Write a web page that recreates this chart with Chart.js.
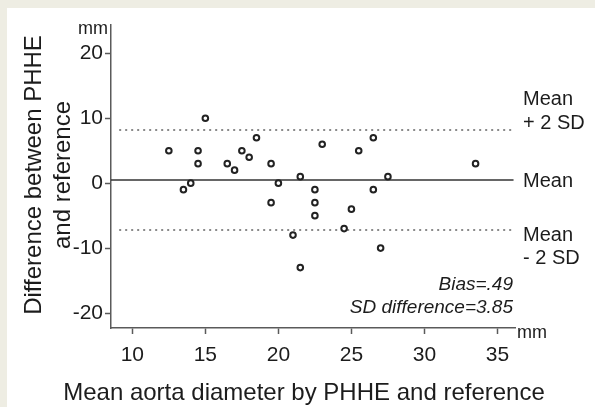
<!DOCTYPE html>
<html>
<head>
<meta charset="utf-8">
<script src="https://cdn.jsdelivr.net/npm/chart.js@4/dist/chart.umd.min.js"></script>
<style>
  html, body { margin: 0; padding: 0; }
  body { width: 595px; height: 407px; background: #eeede3; position: relative; overflow: hidden; }
  #panel { position: absolute; left: 7px; top: 8px; width: 588px; height: 399px; background: #fff; }
</style>
</head>
<body>
<div id="panel"><canvas id="myChart" width="588" height="399"></canvas></div>
<script>
// Bland-Altman: mean of PHHE and reference (x) vs. difference (y), mm
var aortaMean = [12.5, 13.5, 14, 14.5, 14.5, 15, 16.5, 17, 17.5, 18, 18.5, 19.5, 19.5, 20, 21,
                 21.5, 21.5, 22.5, 22.5, 22.5, 23, 24.5, 25, 25.5, 26.5, 26.5, 27, 27.5, 33.5];
var aortaDiff = [5, -1, 0, 5, 3, 10, 3, 2, 5, 4, 7, 3, -3, 0, -8,
                 1, -13, -1, -3, -5, 6, -7, -4, 5, 7, -1, -10, 1, 3];
var bias = 0.49;
var sdDiff = 3.85;
var xTicks = [10, 15, 20, 25, 30, 35];
var yTicks = [-20, -10, 0, 10, 20];

var upper = bias + 2 * sdDiff;
var lower = bias - 2 * sdDiff;

var xMin = 8.54, xMax = 36.2;
var yMin = -22.3, yMax = 24.35;

var points = aortaMean.map(function (m, i) { return { x: m, y: aortaDiff[i] }; });

function hline(y, x0, x1) { return [{ x: x0, y: y }, { x: x1, y: y }]; }

var textFont = '"Liberation Sans", Arial, sans-serif';
var ink = '#1c1c1c';

var labelsPlugin = {
  id: 'labels',
  afterDraw: function (chart) {
    var ctx = chart.ctx;
    var xs = chart.scales.x, ys = chart.scales.y;
    var right = xs.right;
    ctx.save();
    ctx.fillStyle = ink;

    // units
    ctx.font = '18px ' + textFont;
    ctx.textBaseline = 'alphabetic';
    ctx.textAlign = 'right';
    ctx.fillText('mm', ys.right - 3, ys.top + 9);
    ctx.textAlign = 'left';
    ctx.fillText('mm', right + 2, xs.top + 10);

    // line labels
    ctx.font = '20px ' + textFont;
    var lx = right + 8;
    var yu = ys.getPixelForValue(upper);
    var ym = ys.getPixelForValue(bias);
    var yl = ys.getPixelForValue(lower);
    ctx.fillText('Mean', lx, yu - 25);
    ctx.fillText('+ 2 SD', lx, yu - 1);
    ctx.fillText('Mean', lx, ym + 7);
    ctx.fillText('Mean', lx, yl + 11);
    ctx.fillText('- 2 SD', lx, yl + 34);

    // stats
    ctx.font = 'italic 19px ' + textFont;
    ctx.textAlign = 'right';
    ctx.fillText('Bias=.49', right - 2, 282);
    ctx.fillText('SD difference=3.85', right - 2, 305);

    // axis titles
    ctx.font = '24px ' + textFont;
    ctx.textAlign = 'center';
    ctx.fillText('Mean aorta diameter by PHHE and reference', 297, 392);

    ctx.translate(0, 167);
    ctx.rotate(-Math.PI / 2);
    ctx.fillText('Difference between PHHE', 0, 34);
    ctx.fillText('and reference', 0, 63);
    ctx.restore();
  }
};

var ctx = document.getElementById('myChart').getContext('2d');
var chart = new Chart(ctx, {
  type: 'scatter',
  data: {
    datasets: [{
      label: 'Difference',
      data: points,
      pointRadius: 2.8,
      pointBorderWidth: 2,
      pointBorderColor: '#222',
      pointBackgroundColor: '#fff'
    }, {
      label: 'Mean',
      data: hline(bias, xMin, 36.1),
      showLine: true,
      borderColor: '#333',
      borderWidth: 1.6,
      pointRadius: 0
    }, {
      label: '+2 SD',
      data: hline(upper, 9.1, 36.1),
      showLine: true,
      borderColor: '#8a8a8a',
      borderWidth: 2,
      borderDash: [2, 4],
      pointRadius: 0
    }, {
      label: '-2 SD',
      data: hline(lower, 9.1, 36.1),
      showLine: true,
      borderColor: '#8a8a8a',
      borderWidth: 2,
      borderDash: [2, 4],
      pointRadius: 0
    }]
  },
  options: {
    responsive: false,
    animation: false,
    layout: { padding: { top: 17, right: 80, left: 0, bottom: 0 } },
    plugins: { legend: { display: false }, tooltip: { enabled: false } },
    scales: {
      x: {
        type: 'linear',
        min: xMin,
        max: xMax,
        afterBuildTicks: function (scale) {
          scale.ticks = xTicks.map(function (v) { return { value: v }; });
        },
        afterFit: function (scale) { scale.height = 79; },
        ticks: { font: { size: 21, family: textFont }, color: ink, padding: 9, maxRotation: 0 },
        grid: { drawOnChartArea: false, tickLength: 6, color: '#5a5a5a', tickWidth: 1.5 },
        border: { color: '#5a5a5a', width: 1.5 }
      },
      y: {
        type: 'linear',
        min: yMin,
        max: yMax,
        afterBuildTicks: function (scale) {
          scale.ticks = yTicks.map(function (v) { return { value: v }; });
        },
        afterFit: function (scale) { scale.width = 104; },
        ticks: { font: { size: 21, family: textFont }, color: ink, padding: 2 },
        grid: { drawOnChartArea: false, tickLength: 6, color: '#5a5a5a', tickWidth: 1.5 },
        border: { color: '#5a5a5a', width: 1.5 }
      }
    }
  },
  plugins: [labelsPlugin]
});
</script>
</body>
</html>
